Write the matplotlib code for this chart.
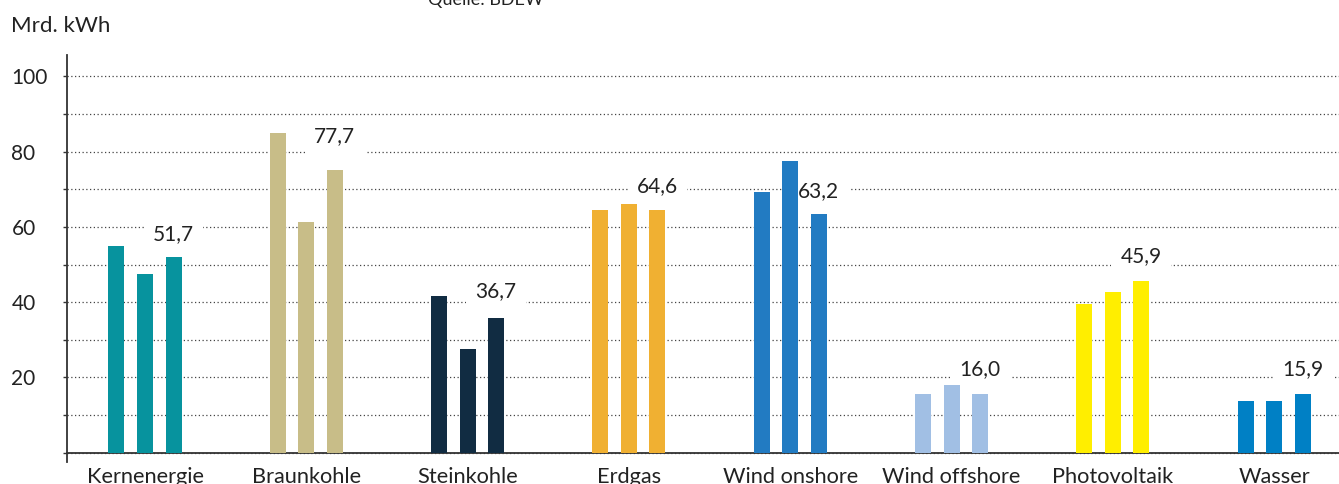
import numpy as np
import matplotlib.pyplot as plt
from matplotlib.ticker import MultipleLocator

plt.rcParams['font.family'] = ['Lato', 'DejaVu Sans']

# Stromerzeugung je Energietraeger, drei Zeitraeume
categories = ['Kernenergie', 'Braunkohle', 'Steinkohle', 'Erdgas',
              'Wind onshore', 'Wind offshore', 'Photovoltaik', 'Wasser']
period1 = [54.9, 85.0, 41.6, 64.5, 69.3, 15.6, 39.6, 13.7]
period2 = [47.5, 61.2, 27.6, 66.1, 77.5, 18.0, 42.7, 13.7]
period3 = [52.0, 75.1, 35.8, 64.5, 63.4, 15.6, 45.6, 15.6]
value_labels = ['51,7', '77,7', '36,7', '64,6', '63,2', '16,0', '45,9', '15,9']
colors = ['#07939e', '#c8bd88', '#112c42', '#f0b032',
          '#227bc2', '#a1bfe4', '#ffee00', '#0080c5']

txt = '#222222'
fig = plt.figure(figsize=(13.39, 4.84), dpi=100)
ax = fig.add_axes([0.05004, 0.04525, 0.94996, 0.842])

x = np.arange(len(categories))
step = 0.177
w = 0.099
for j, vals in enumerate([period1, period2, period3]):
    ax.bar(x + (j - 1) * step, vals, width=w, color=colors, zorder=5)

for i, lab in enumerate(value_labels):
    yv = float(lab.replace(',', '.'))
    ax.annotate(lab, (x[i] + step, yv), xytext=(0, 10), textcoords='offset points',
                ha='center', va='bottom', fontsize=15, color=txt, zorder=4,
                bbox=dict(boxstyle='square,pad=0.45', fc='white', ec='none'))

ax.set_xlim(-0.4836, 7.402)
ax.set_ylim(-2.5, 105.8)
ax.yaxis.set_minor_locator(MultipleLocator(10))
ax.set_yticks([0, 20, 40, 60, 80, 100])
ax.set_yticklabels(['', '20', '40', '60', '80', '100'])
for t in ax.get_yticklabels():
    t.set_horizontalalignment('left')
ax.grid(axis='y', which='both', linestyle=(0, (1, 2)), color='#444444', linewidth=0.9, zorder=0)
ax.tick_params(axis='y', which='both', length=3, width=1, color='#333333',
               labelsize=15, labelcolor=txt, pad=37)

ax.set_xticks(x)
ax.set_xticklabels(categories)
ax.tick_params(axis='x', length=0, labelsize=15.7, labelcolor=txt, pad=10)

for s in ['top', 'right']:
    ax.spines[s].set_visible(False)
ax.spines['bottom'].set_position(('data', 0))
ax.spines['bottom'].set_color('#333333')
ax.spines['bottom'].set_linewidth(1.3)
ax.spines['left'].set_color('#333333')
ax.spines['left'].set_linewidth(1.3)

fig.text(11 / 1339, 1 - 32 / 484, 'Mrd. kWh', fontsize=16, color=txt, va='baseline')
fig.text(428 / 1339, 1 - 5 / 484, 'Quelle: BDEW', fontsize=13, color=txt, va='baseline')

fig.savefig('out.png', dpi=100)
